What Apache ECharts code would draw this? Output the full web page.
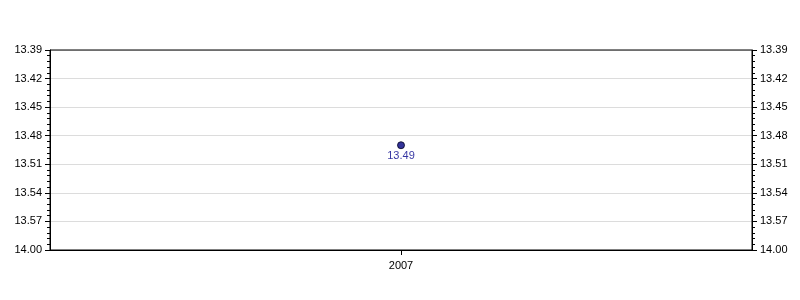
<!DOCTYPE html>
<html><head><meta charset="utf-8">
<script src="https://cdn.jsdelivr.net/npm/echarts@6/dist/echarts.min.js"></script>
<style>html,body{margin:0;padding:0;background:#fff}#c{width:800px;height:300px}</style>
</head><body><div id="c"></div>
<script>
var categories = ['2007'];
var values = [13.49];
var tickLabels = ['13.39','13.42','13.45','13.48','13.51','13.54','13.57','14.00'];
var axisBase = 13.39;
var axisStep = 0.03;

var chart = echarts.init(document.getElementById('c'), null, {renderer:'canvas'});
function yAxisDef(pos){
  return {
    type:'value', position:pos, inverse:true, min:0, max:7, interval:1,
    minorTick:{show:true, splitNumber:5, length:3, lineStyle:{color:'#000'}},
    axisLine:{show:true, onZero:false, lineStyle:{color:'#000', width:1}},
    axisTick:{show:true, length:5, lineStyle:{color:'#000'}},
    splitLine:{show:pos==='left', lineStyle:{color:'#dcdcdc', width:1}},
    axisLabel:{color:'#000', fontFamily:'Liberation Sans, Arial, sans-serif', fontSize:11, margin:8,
      formatter:function(v){ var i=Math.round(v); return (i>0&&i<7)||i===0||i===7 ? tickLabels[i] : ''; }}
  };
}
chart.setOption({
  animation:false,
  grid:{left:50, right:48, top:50, bottom:50, show:true, borderColor:'#000', borderWidth:1, z:5},
  xAxis:{type:'category', data:categories, boundaryGap:true, position:'bottom',
    axisLine:{onZero:false, lineStyle:{color:'#000'}},
    axisTick:{show:true, alignWithLabel:true, length:5, lineStyle:{color:'#000'}},
    splitLine:{show:false},
    axisLabel:{color:'#000', fontFamily:'Liberation Sans, Arial, sans-serif', fontSize:11, margin:10}},
  yAxis:[yAxisDef('left'), yAxisDef('right')],
  series:[{
    type:'scatter', yAxisIndex:0,
    data: values.map(function(v,i){ return {value:[categories[i], (v-axisBase)/axisStep], raw:v}; }),
    symbol:'circle', symbolSize:7,
    itemStyle:{color:'#000080', borderColor:'#000022', borderWidth:1},
    label:{show:true, position:'bottom', distance:1, color:'#00008b', fontSize:11,
      fontFamily:'Liberation Sans, Arial, sans-serif',
      formatter:function(p){ return p.data.raw.toFixed(2); }}
  }]
});
</script></body></html>
